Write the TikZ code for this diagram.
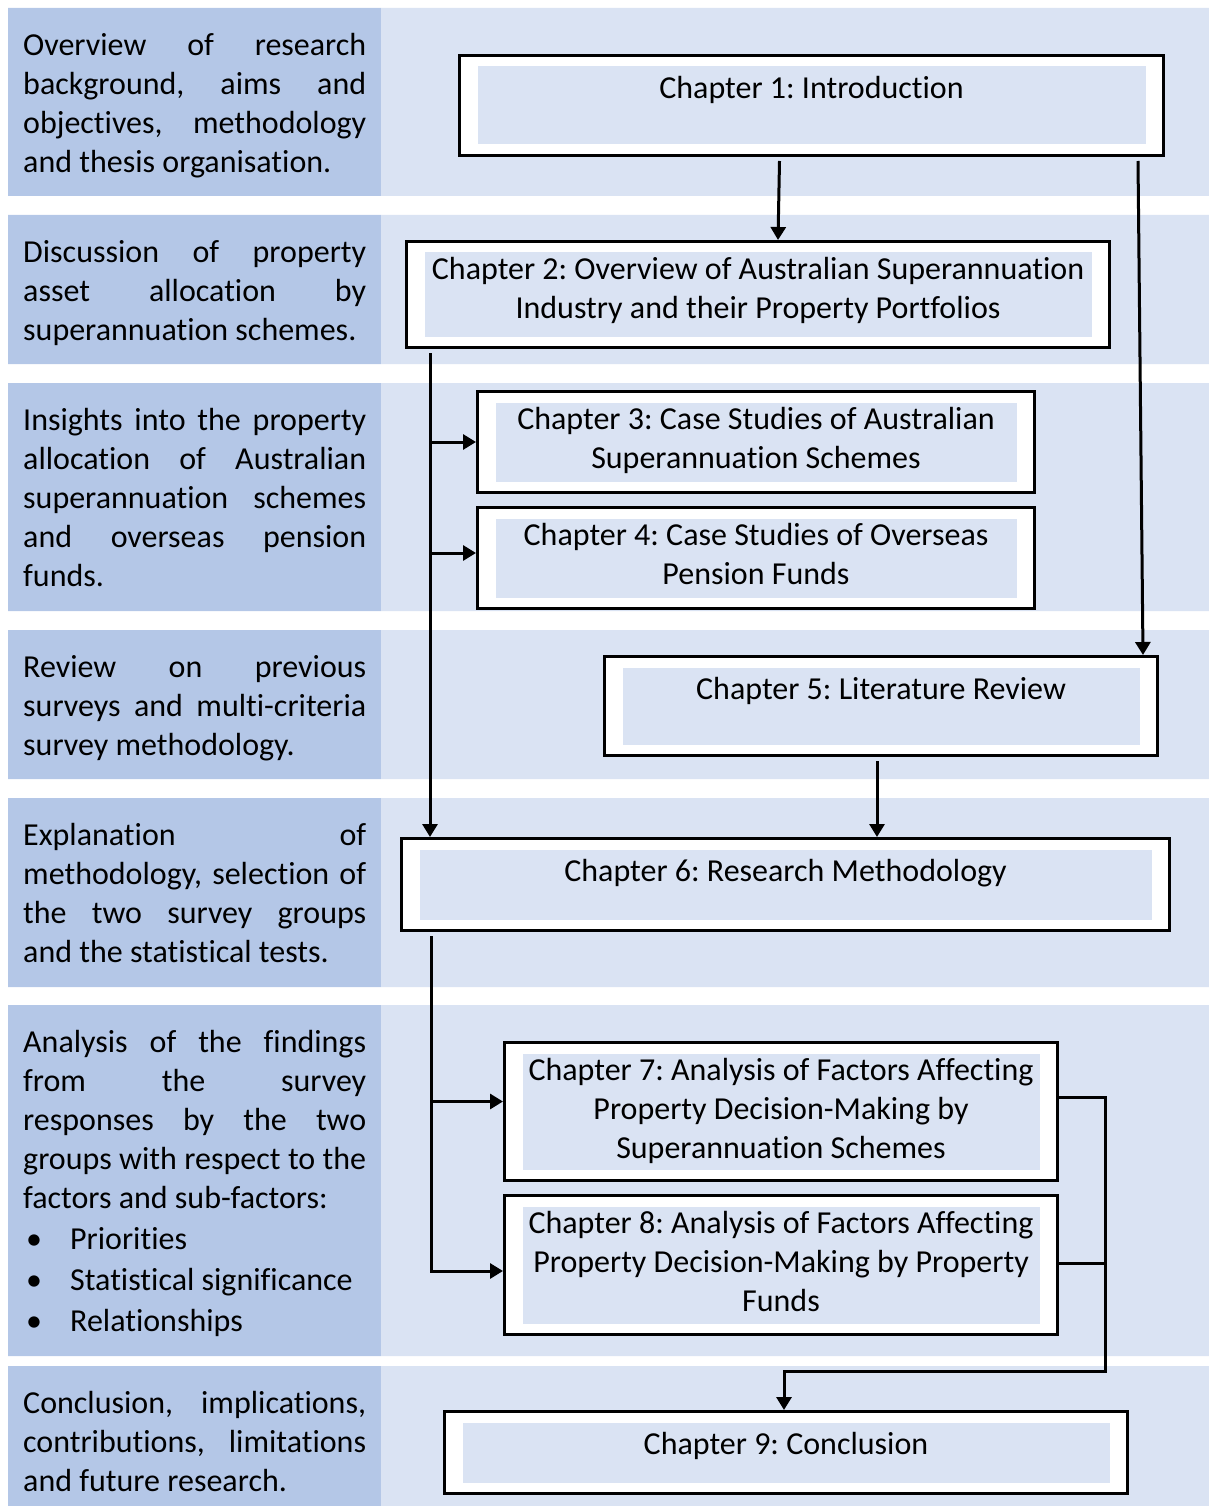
\documentclass[tikz,border=0pt]{standalone}
\usepackage{fontspec}
\setmainfont{Carlito}[Ligatures=NoCommon]
\usetikzlibrary{arrows.meta}
\frenchspacing
\definecolor{bandL}{HTML}{B4C7E7}
\definecolor{bandR}{HTML}{DAE3F3}
\tikzset{
  chapbox/.style={draw,line width=3pt,fill=white,inner sep=0pt,
    path picture={\fill[bandR] ([shift={(18pt,-11pt)}]path picture bounding box.north west)
      rectangle ([shift={(-18pt,11pt)}]path picture bounding box.south east);}},
  chaptext/.style={anchor=north,inner sep=0pt,align=center,
    font=\fontsize{32}{39}\selectfont,execute at begin node=\strut},
  sidetext/.style={anchor=north west,inner sep=0pt,font=\fontsize{32}{39}\selectfont},
  conn/.style={line width=3pt},
}
% one justified line, one plain line, one bullet line
\newcommand{\jl}[1]{\hbox to343pt{\strut#1}}
\newcommand{\pl}[1]{\hbox{\strut#1}}
\newcommand{\bl}[1]{\hbox{\strut\makebox[47pt][l]{\hspace{3pt}\textbullet}#1}}
\newcommand{\side}[1]{\vtop{\hsize=343pt #1}}
\begin{document}
\begin{tikzpicture}[x=1pt,y=-1pt,>={Triangle[length=13pt,width=15pt]}]
\useasboundingbox (0,0) rectangle (1209,1506);
% bands
\fill[bandL] (8,8) rectangle (381,196) (8,215) rectangle (381,364) (8,383) rectangle (381,611)
  (8,630) rectangle (381,779) (8,798) rectangle (381,987) (8,1005) rectangle (381,1356)
  (8,1366) rectangle (381,1506);
\fill[bandR] (381,8) rectangle (1209,196) (381,215) rectangle (1209,364) (381,383) rectangle (1209,611)
  (381,630) rectangle (1209,779) (381,798) rectangle (1209,987) (381,1005) rectangle (1209,1356)
  (381,1366) rectangle (1209,1506);
% left column
\node[sidetext] (l1) at (23,28) {\side{\jl{Overview of research}\jl{background, aims and}\jl{objectives, methodology}\pl{and thesis organisation.}}};
\node[sidetext] (l2) at (23,235) {\side{\jl{Discussion of property}\jl{asset allocation by}\pl{superannuation schemes.}}};
\node[sidetext] (l3) at (23,403) {\side{\jl{Insights into the property}\jl{allocation of Australian}\jl{superannuation schemes}\jl{and overseas pension}\pl{funds.}}};
\node[sidetext] (l4) at (23,650) {\side{\jl{Review on previous}\jl{surveys and multi-criteria}\pl{survey methodology.}}};
\node[sidetext] (l5) at (23,818) {\side{\jl{Explanation of}\jl{methodology, selection of}\jl{the two survey groups}\pl{and the statistical tests.}}};
\node[sidetext] (l6) at (23,1025) {\side{\jl{Analysis of the findings}\jl{from the survey}\jl{responses by the two}\jl{groups with respect to the}\pl{factors and sub-factors:}
  \baselineskip=41pt\bl{Priorities}\bl{Statistical significance}\bl{Relationships}}};
\node[sidetext] (l7) at (23,1386) {\side{\jl{Conclusion, implications,}\jl{contributions, limitations}\pl{and future research.}}};
% chapters
\node[chapbox,minimum width=704pt,minimum height=100pt] (c1) at (811.5,105.5) {};
\node[chapbox,minimum width=703pt,minimum height=106pt] (c2) at (758,294.5) {};
\node[chapbox,minimum width=557pt,minimum height=101pt] (c3) at (756,442) {};
\node[chapbox,minimum width=557pt,minimum height=101pt] (c4) at (756,558) {};
\node[chapbox,minimum width=553pt,minimum height=99pt] (c5) at (881,706) {};
\node[chapbox,minimum width=768pt,minimum height=92pt] (c6) at (785.5,884.5) {};
\node[chapbox,minimum width=553pt,minimum height=138pt] (c7) at (781,1111.5) {};
\node[chapbox,minimum width=553pt,minimum height=139pt] (c8) at (781,1265) {};
\node[chapbox,minimum width=683pt,minimum height=82pt] (c9) at (786,1452.5) {};
\node[chaptext] (c1t) at ([yshift=-17pt]c1.north) {Chapter 1: Introduction};
\node[chaptext] (c2t) at ([yshift=-17pt]c2.north) {Chapter 2: Overview of Australian Superannuation\\Industry and their Property Portfolios};
\node[chaptext] (c3t) at ([yshift=-17pt]c3.north) {Chapter 3: Case Studies of Australian\\Superannuation Schemes};
\node[chaptext] (c4t) at ([yshift=-17pt]c4.north) {Chapter 4: Case Studies of Overseas\\Pension Funds};
\node[chaptext] (c5t) at ([yshift=-17pt]c5.north) {Chapter 5: Literature Review};
\node[chaptext] (c6t) at ([yshift=-17pt]c6.north) {Chapter 6: Research Methodology};
\node[chaptext] (c7t) at ([yshift=-17pt]c7.north) {Chapter 7: Analysis of Factors Affecting\\Property Decision-Making by\\Superannuation Schemes};
\node[chaptext] (c8t) at ([yshift=-17pt]c8.north) {Chapter 8: Analysis of Factors Affecting\\Property Decision-Making by Property\\Funds};
\node[chaptext] (c9t) at ([yshift=-17pt]c9.north) {Chapter 9: Conclusion};
% connectors
\draw[conn,->] ([xshift=-32pt,yshift=-4pt]c1.south) -- ([xshift=20pt]c2.north);
\draw[conn,->] ([xshift=-27pt,yshift=-4pt]c1.south east) -- ([xshift=-16pt]c5.north east);
\coordinate (t2) at ([xshift=25pt,yshift=-4pt]c2.south west);
\draw[conn,->] (t2) -- (t2 |- c6.north);
\draw[conn,->] (t2 |- c3.west) -- (c3.west);
\draw[conn,->] ([yshift=5pt]c4.west -| t2) -- ([yshift=5pt]c4.west);
\draw[conn,->] ([xshift=-4pt,yshift=-4pt]c5.south) -- ([xshift=-4pt]c5.south |- c6.north);
\coordinate (t6) at ([xshift=31pt,yshift=-4pt]c6.south west);
\draw[conn,->] (t6) -- ([yshift=-6pt]c8.west -| t6) -- ([yshift=-6pt]c8.west);
\draw[conn,->] ([yshift=10pt]c7.west -| t6) -- ([yshift=10pt]c7.west);
\draw[conn,->] ([yshift=14pt]c7.east) -| ([xshift=46pt,yshift=-35pt]c8.south east) -| ([xshift=-2pt]c9.north);
\draw[conn] ([yshift=2pt]c8.east) -- ++(46pt,0);
\end{tikzpicture}
\end{document}
